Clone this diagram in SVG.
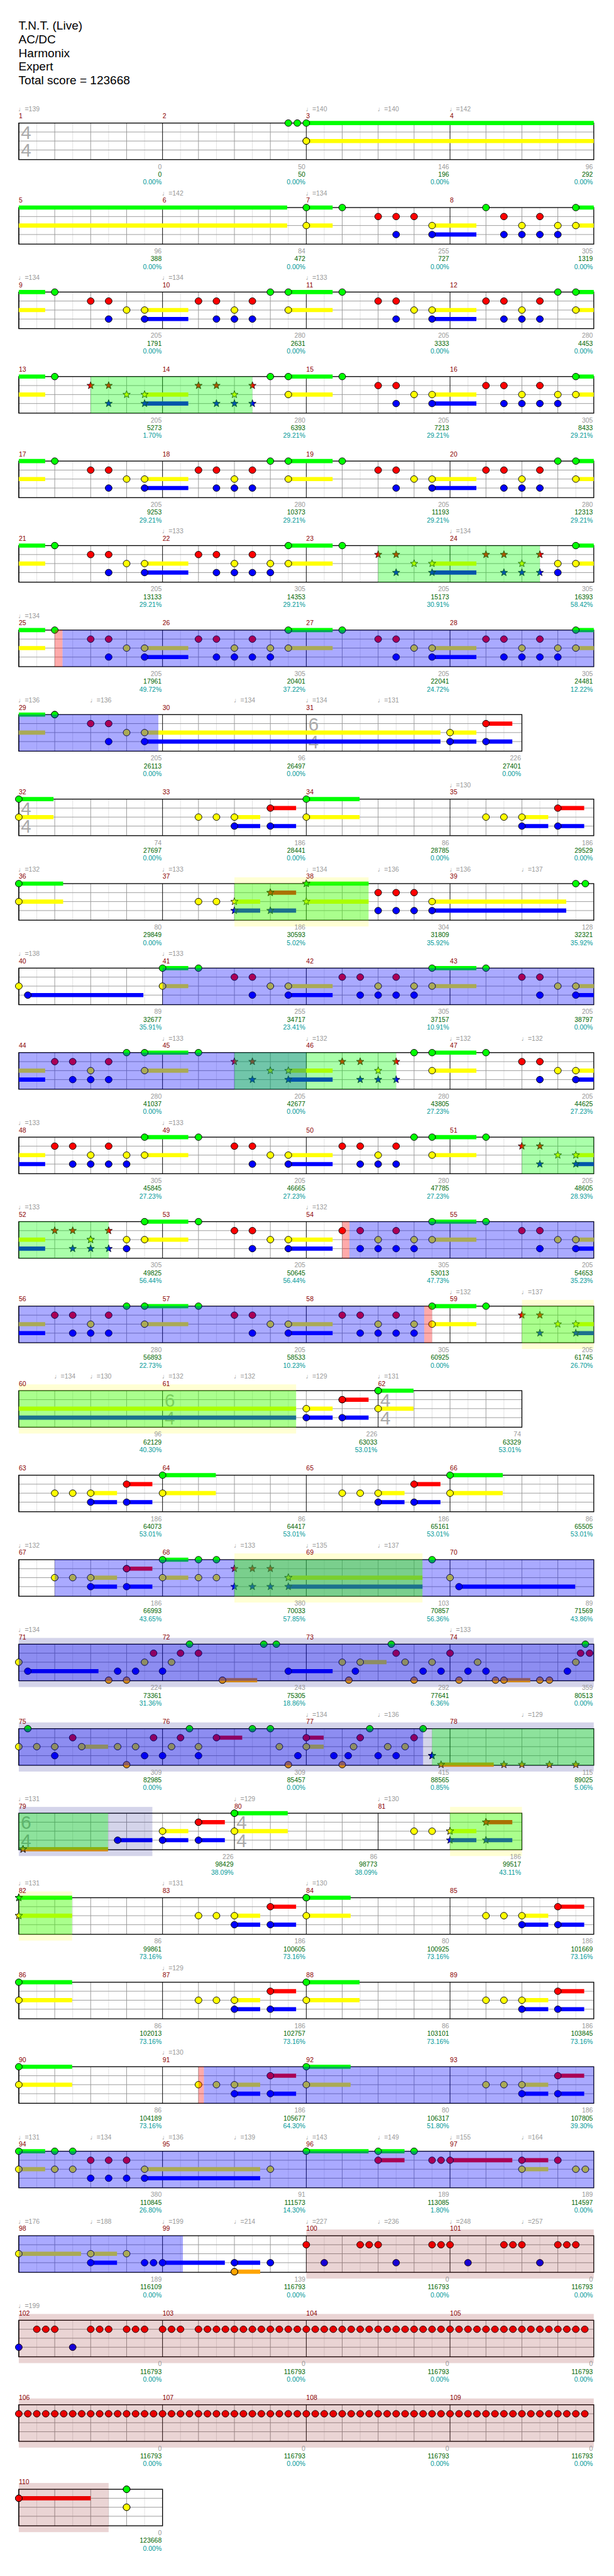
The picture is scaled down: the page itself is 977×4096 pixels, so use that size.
<svg xmlns="http://www.w3.org/2000/svg" width="977" height="4096" viewBox="0 0 977 4096">
<defs>
<style>
text{font-family:"Liberation Sans",Arial,"DejaVu Sans",sans-serif;font-size:11px}
.t{fill:#999}
.m{fill:#8b0000}
.a{fill:#999;text-anchor:end}
.b{fill:#060;text-anchor:end}
.c{fill:#099;text-anchor:end}
.ts text{font-size:31px;fill:#aaa}
.h{font-size:20px;fill:#000}
.k{fill:none;stroke-width:7}
.sg{stroke:#0f0}.sr{stroke:#f00}.sy{stroke:#ff0}.sb{stroke:#00f}.so{stroke:#ffa500}
.nG{marker:url(#mG)}.nR{marker:url(#mR)}.nY{marker:url(#mY)}.nB{marker:url(#mB)}.nO{marker:url(#mO)}
.xG{marker:url(#kG)}.xR{marker:url(#kR)}.xY{marker:url(#kY)}.xB{marker:url(#kB)}.xO{marker:url(#kO)}
.ob{fill:#00f;fill-opacity:.333}
.og{fill:#0f0;fill-opacity:.333}
.os{fill:#f00;fill-opacity:.333}
.oy{fill:#ff0;fill-opacity:.17}
.or{fill:#800000;fill-opacity:.17}
.ov{fill:#000080;fill-opacity:.17}
.bx{fill:none;stroke:#000;stroke-width:1.4}
</style>
<ellipse id="e" rx="5.7" ry="5.5" stroke="#000" stroke-width="1"/>
<path id="st" d="M0,-6.5L1.59,-2.18 6.18,-2.01 2.57,0.83 3.82,5.26 0,2.7 -3.82,5.26 -2.57,0.83 -6.18,-2.01 -1.59,-2.18Z" stroke="#000" stroke-width="0.8"/>
<marker id="mG" markerUnits="userSpaceOnUse" overflow="visible" orient="0"><use href="#e" fill="#0f0"/></marker>
<marker id="mR" markerUnits="userSpaceOnUse" overflow="visible" orient="0"><use href="#e" fill="#f00"/></marker>
<marker id="mY" markerUnits="userSpaceOnUse" overflow="visible" orient="0"><use href="#e" fill="#ff0"/></marker>
<marker id="mB" markerUnits="userSpaceOnUse" overflow="visible" orient="0"><use href="#e" fill="#00f"/></marker>
<marker id="mO" markerUnits="userSpaceOnUse" overflow="visible" orient="0"><use href="#e" fill="#ffa500"/></marker>
<marker id="kG" markerUnits="userSpaceOnUse" overflow="visible" orient="0"><use href="#st" fill="#0f0"/></marker>
<marker id="kR" markerUnits="userSpaceOnUse" overflow="visible" orient="0"><use href="#st" fill="#f00"/></marker>
<marker id="kY" markerUnits="userSpaceOnUse" overflow="visible" orient="0"><use href="#st" fill="#ff0"/></marker>
<marker id="kB" markerUnits="userSpaceOnUse" overflow="visible" orient="0"><use href="#st" fill="#00f"/></marker>
<marker id="kO" markerUnits="userSpaceOnUse" overflow="visible" orient="0"><use href="#st" fill="#ffa500"/></marker>
<g id="m4"><path d="M30 0V61M90 0V61M150 0V61M210 0V61" stroke="#e2e2e2"/><path d="M60 0V61M120 0V61M180 0V61M0 15H240M0 30H240M0 45H240" stroke="#999"/><path d="M0 0V61" stroke="#000"/></g>
<g id="m6"><path d="M30 0V61M90 0V61M150 0V61M210 0V61M270 0V61M330 0V61" stroke="#e2e2e2"/><path d="M60 0V61M120 0V61M180 0V61M240 0V61M300 0V61M0 15H360M0 30H360M0 45H360" stroke="#999"/><path d="M0 0V61" stroke="#000"/></g>
<g id="R16"><use href="#m4"/><use href="#m4" x="240"/><use href="#m4" x="480"/><use href="#m4" x="720"/><rect class="bx" width="960" height="61"/></g>
<g id="T44" class="ts"><text x="3.5" y="26.5">4</text><text x="3.5" y="56.5">4</text></g>
<g id="T64" class="ts"><text x="3.5" y="26.5">6</text><text x="3.5" y="56.5">4</text></g>
</defs>
<rect width="977" height="4096" fill="#fff"/>
<g transform="scale(0.953)">
<g id="header">
<text class="h" x="31" y="49">T.N.T. (Live)</text>
<text class="h" x="31" y="72">AC/DC</text>
<text class="h" x="31" y="95">Harmonix</text>
<text class="h" x="31" y="118">Expert</text>
<text class="h" x="31" y="141">Total score = 123668</text>
</g>

<g id="r1" transform="translate(31.4,205.3)">
<use href="#R16"/><use href="#T44"/>
<path class="k sg" d="M480 0H960"/><path class="k sy" d="M480 30H960"/>
<path class="nG" d="M450 0H465H480"/><path class="nY" d="M480 30h0"/>
<text class="t" x="-1" y="-20">♩=139</text><text class="t" x="479" y="-20">♩=140</text><text class="t" x="599" y="-20">♩=140</text><text class="t" x="719" y="-20">♩=142</text>
<text class="m" y="-8">1</text><text class="m" x="240" y="-8">2</text><text class="m" x="480" y="-8">3</text><text class="m" x="720" y="-8">4</text>
<text class="a" x="238.5" y="76.5">0</text><text class="b" x="238.5" y="89.5">0</text><text class="c" x="238.5" y="102.5">0.00%</text>
<text class="a" x="478.5" y="76.5">50</text><text class="b" x="478.5" y="89.5">50</text><text class="c" x="478.5" y="102.5">0.00%</text>
<text class="a" x="718.5" y="76.5">146</text><text class="b" x="718.5" y="89.5">196</text><text class="c" x="718.5" y="102.5">0.00%</text>
<text class="a" x="958.5" y="76.5">96</text><text class="b" x="958.5" y="89.5">292</text><text class="c" x="958.5" y="102.5">0.00%</text>
</g>

<g id="r2" transform="translate(31.4,346.3)">
<use href="#R16"/>
<path class="k sg" d="M0 0H448M480 0H524M930 0H960"/><path class="k sy" d="M0 30H448M480 30H524M690 30H764M930 30H960"/><path class="k sb" d="M690 45H764"/>
<path class="nG" d="M480 0H540H780H930"/><path class="nR" d="M600 15H630H660H810H870"/><path class="nY" d="M480 30H690H840H900H930"/><path class="nB" d="M630 45H690H810H840H870H900"/>
<text class="t" x="239" y="-20">♩=142</text><text class="t" x="479" y="-20">♩=134</text>
<text class="m" y="-8">5</text><text class="m" x="240" y="-8">6</text><text class="m" x="480" y="-8">7</text><text class="m" x="720" y="-8">8</text>
<text class="a" x="238.5" y="76.5">96</text><text class="b" x="238.5" y="89.5">388</text><text class="c" x="238.5" y="102.5">0.00%</text>
<text class="a" x="478.5" y="76.5">84</text><text class="b" x="478.5" y="89.5">472</text><text class="c" x="478.5" y="102.5">0.00%</text>
<text class="a" x="718.5" y="76.5">255</text><text class="b" x="718.5" y="89.5">727</text><text class="c" x="718.5" y="102.5">0.00%</text>
<text class="a" x="958.5" y="76.5">305</text><text class="b" x="958.5" y="89.5">1319</text><text class="c" x="958.5" y="102.5">0.00%</text>
</g>

<g id="r3" transform="translate(31.4,487.3)">
<use href="#R16"/>
<path class="k sg" d="M0 0H44M450 0H524M930 0H960"/><path class="k sy" d="M0 30H44M210 30H283M450 30H524M690 30H764M930 30H960"/><path class="k sb" d="M210 45H283M690 45H764"/>
<path class="nG" d="M60 0H420H450H540H900H930"/><path class="nR" d="M120 15H150H300H330H390H600H630H780H810H870"/><path class="nY" d="M180 30H210H360H450H660H690H840H930"/><path class="nB" d="M150 45H210H330H360H390H630H690H810H840H870"/>
<text class="t" x="-1" y="-20">♩=134</text><text class="t" x="239" y="-20">♩=134</text><text class="t" x="479" y="-20">♩=133</text>
<text class="m" y="-8">9</text><text class="m" x="240" y="-8">10</text><text class="m" x="480" y="-8">11</text><text class="m" x="720" y="-8">12</text>
<text class="a" x="238.5" y="76.5">205</text><text class="b" x="238.5" y="89.5">1791</text><text class="c" x="238.5" y="102.5">0.00%</text>
<text class="a" x="478.5" y="76.5">280</text><text class="b" x="478.5" y="89.5">2631</text><text class="c" x="478.5" y="102.5">0.00%</text>
<text class="a" x="718.5" y="76.5">205</text><text class="b" x="718.5" y="89.5">3333</text><text class="c" x="718.5" y="102.5">0.00%</text>
<text class="a" x="958.5" y="76.5">280</text><text class="b" x="958.5" y="89.5">4453</text><text class="c" x="958.5" y="102.5">0.00%</text>
</g>

<g id="r4" transform="translate(31.4,628.3)">
<use href="#R16"/>
<path class="k sg" d="M0 0H44M450 0H524M930 0H960"/><path class="k sy" d="M0 30H44M210 30H283M450 30H524M690 30H764M930 30H960"/><path class="k sb" d="M210 45H283M690 45H764"/>
<path class="nG" d="M60 0H420H450H540H930"/><path class="xR" d="M120 15H150H300H330H390"/><path class="nR" d="M600 15H630H780H810H870"/><path class="xY" d="M180 30H210H360"/><path class="nY" d="M450 30H660H690H840H900H930"/><path class="xB" d="M150 45H210H330H360H390"/><path class="nB" d="M630 45H690H810H840H870H900"/>
<rect class="og" x="120" width="270" height="61"/>
<text class="m" y="-8">13</text><text class="m" x="240" y="-8">14</text><text class="m" x="480" y="-8">15</text><text class="m" x="720" y="-8">16</text>
<text class="a" x="238.5" y="76.5">205</text><text class="b" x="238.5" y="89.5">5273</text><text class="c" x="238.5" y="102.5">1.70%</text>
<text class="a" x="478.5" y="76.5">280</text><text class="b" x="478.5" y="89.5">6393</text><text class="c" x="478.5" y="102.5">29.21%</text>
<text class="a" x="718.5" y="76.5">205</text><text class="b" x="718.5" y="89.5">7213</text><text class="c" x="718.5" y="102.5">29.21%</text>
<text class="a" x="958.5" y="76.5">305</text><text class="b" x="958.5" y="89.5">8433</text><text class="c" x="958.5" y="102.5">29.21%</text>
</g>

<g id="r5" transform="translate(31.4,769.3)">
<use href="#R16"/>
<path class="k sg" d="M0 0H44M450 0H524M930 0H960"/><path class="k sy" d="M0 30H44M210 30H283M450 30H524M690 30H764M930 30H960"/><path class="k sb" d="M210 45H283M690 45H764"/>
<path class="nG" d="M60 0H420H450H540H900H930"/><path class="nR" d="M120 15H150H300H330H390H600H630H780H810H870"/><path class="nY" d="M180 30H210H360H450H660H690H840H930"/><path class="nB" d="M150 45H210H330H360H390H630H690H810H840H870"/>
<text class="m" y="-8">17</text><text class="m" x="240" y="-8">18</text><text class="m" x="480" y="-8">19</text><text class="m" x="720" y="-8">20</text>
<text class="a" x="238.5" y="76.5">205</text><text class="b" x="238.5" y="89.5">9253</text><text class="c" x="238.5" y="102.5">29.21%</text>
<text class="a" x="478.5" y="76.5">280</text><text class="b" x="478.5" y="89.5">10373</text><text class="c" x="478.5" y="102.5">29.21%</text>
<text class="a" x="718.5" y="76.5">205</text><text class="b" x="718.5" y="89.5">11193</text><text class="c" x="718.5" y="102.5">29.21%</text>
<text class="a" x="958.5" y="76.5">280</text><text class="b" x="958.5" y="89.5">12313</text><text class="c" x="958.5" y="102.5">29.21%</text>
</g>

<g id="r6" transform="translate(31.4,910.3)">
<use href="#R16"/>
<path class="k sg" d="M0 0H44M450 0H524M930 0H960"/><path class="k sy" d="M0 30H44M210 30H283M450 30H524M690 30H764M930 30H960"/><path class="k sb" d="M210 45H283M690 45H764"/>
<path class="nG" d="M60 0H450H540H930"/><path class="nR" d="M120 15H150H300H330H390"/><path class="xR" d="M600 15H630H780H810H870"/><path class="nY" d="M180 30H210H360H420H450H900H930"/><path class="xY" d="M660 30H690H840"/><path class="nB" d="M150 45H210H330H360H390H420H900"/><path class="xB" d="M630 45H690H810H840H870"/>
<rect class="og" x="600" width="270" height="61"/>
<text class="t" x="239" y="-20">♩=133</text><text class="t" x="719" y="-20">♩=134</text>
<text class="m" y="-8">21</text><text class="m" x="240" y="-8">22</text><text class="m" x="480" y="-8">23</text><text class="m" x="720" y="-8">24</text>
<text class="a" x="238.5" y="76.5">205</text><text class="b" x="238.5" y="89.5">13133</text><text class="c" x="238.5" y="102.5">29.21%</text>
<text class="a" x="478.5" y="76.5">305</text><text class="b" x="478.5" y="89.5">14353</text><text class="c" x="478.5" y="102.5">29.21%</text>
<text class="a" x="718.5" y="76.5">205</text><text class="b" x="718.5" y="89.5">15173</text><text class="c" x="718.5" y="102.5">30.91%</text>
<text class="a" x="958.5" y="76.5">305</text><text class="b" x="958.5" y="89.5">16393</text><text class="c" x="958.5" y="102.5">58.42%</text>
</g>

<g id="r7" transform="translate(31.4,1051.3)">
<use href="#R16"/>
<path class="k sg" d="M0 0H44M450 0H524M930 0H960"/><path class="k sy" d="M0 30H44M210 30H283M450 30H524M690 30H764M930 30H960"/><path class="k sb" d="M210 45H283M690 45H764"/>
<path class="nG" d="M60 0H450H540H930"/><path class="nR" d="M120 15H150H300H330H390H600H630H780H810H870"/><path class="nY" d="M180 30H210H360H420H450H660H690H840H900H930"/><path class="nB" d="M150 45H210H330H360H390H420H630H690H810H840H870H900"/>
<rect class="os" x="60" width="13" height="61"/><rect class="ob" x="73" width="887" height="61"/>
<text class="t" x="-1" y="-20">♩=134</text>
<text class="m" y="-8">25</text><text class="m" x="240" y="-8">26</text><text class="m" x="480" y="-8">27</text><text class="m" x="720" y="-8">28</text>
<text class="a" x="238.5" y="76.5">205</text><text class="b" x="238.5" y="89.5">17961</text><text class="c" x="238.5" y="102.5">49.72%</text>
<text class="a" x="478.5" y="76.5">305</text><text class="b" x="478.5" y="89.5">20401</text><text class="c" x="478.5" y="102.5">37.22%</text>
<text class="a" x="718.5" y="76.5">205</text><text class="b" x="718.5" y="89.5">22041</text><text class="c" x="718.5" y="102.5">24.72%</text>
<text class="a" x="958.5" y="76.5">305</text><text class="b" x="958.5" y="89.5">24481</text><text class="c" x="958.5" y="102.5">12.22%</text>
</g>

<g id="r8" transform="translate(31.4,1192.3)">
<use href="#m4"/><use href="#m4" x="240"/><use href="#m6" x="480"/><rect class="bx" width="840" height="61"/><use href="#T64" x="480"/>
<path class="k sg" d="M0 0H44"/><path class="k sr" d="M780 15H824"/><path class="k sy" d="M0 30H44M210 30H704M720 30H764"/><path class="k sb" d="M210 45H704M720 45H764M780 45H824"/>
<path class="nG" d="M60 0h0"/><path class="nR" d="M120 15H150H780"/><path class="nY" d="M180 30H210H720"/><path class="nB" d="M150 45H210H720H780"/>
<rect class="ob" width="233" height="61"/>
<text class="t" x="-1" y="-20">♩=136</text><text class="t" x="119" y="-20">♩=136</text><text class="t" x="359" y="-20">♩=134</text><text class="t" x="479" y="-20">♩=134</text><text class="t" x="599" y="-20">♩=131</text>
<text class="m" y="-8">29</text><text class="m" x="240" y="-8">30</text><text class="m" x="480" y="-8">31</text>
<text class="a" x="238.5" y="76.5">205</text><text class="b" x="238.5" y="89.5">26113</text><text class="c" x="238.5" y="102.5">0.00%</text>
<text class="a" x="478.5" y="76.5">96</text><text class="b" x="478.5" y="89.5">26497</text><text class="c" x="478.5" y="102.5">0.00%</text>
<text class="a" x="838.5" y="76.5">226</text><text class="b" x="838.5" y="89.5">27401</text><text class="c" x="838.5" y="102.5">0.00%</text>
</g>

<g id="r9" transform="translate(31.4,1333.3)">
<use href="#R16"/><use href="#T44"/>
<path class="k sg" d="M0 0H58M480 0H569"/><path class="k sr" d="M420 15H463M900 15H944"/><path class="k sy" d="M0 30H58M360 30H403M480 30H569M840 30H884"/><path class="k sb" d="M360 45H403M420 45H463M840 45H884M900 45H944"/>
<path class="nG" d="M0 0H480"/><path class="nR" d="M420 15H900"/><path class="nY" d="M0 30H300H330H360H480H780H810H840"/><path class="nB" d="M360 45H420H840H900"/>
<text class="t" x="719" y="-20">♩=130</text>
<text class="m" y="-8">32</text><text class="m" x="240" y="-8">33</text><text class="m" x="480" y="-8">34</text><text class="m" x="720" y="-8">35</text>
<text class="a" x="238.5" y="76.5">74</text><text class="b" x="238.5" y="89.5">27697</text><text class="c" x="238.5" y="102.5">0.00%</text>
<text class="a" x="478.5" y="76.5">186</text><text class="b" x="478.5" y="89.5">28441</text><text class="c" x="478.5" y="102.5">0.00%</text>
<text class="a" x="718.5" y="76.5">86</text><text class="b" x="718.5" y="89.5">28785</text><text class="c" x="718.5" y="102.5">0.00%</text>
<text class="a" x="958.5" y="76.5">186</text><text class="b" x="958.5" y="89.5">29529</text><text class="c" x="958.5" y="102.5">0.00%</text>
</g>

<g id="r10" transform="translate(31.4,1474.3)">
<use href="#R16"/>
<path class="k sg" d="M0 0H74M480 0H584"/><path class="k sr" d="M420 15H463"/><path class="k sy" d="M0 30H74M360 30H403M480 30H584M690 30H914"/><path class="k sb" d="M360 45H403M420 45H463M690 45H914"/>
<path class="nG" d="M0 0H930H946"/><path class="xG" d="M480 0h0"/><path class="xR" d="M420 15h0"/><path class="nR" d="M600 15H630H660"/><path class="nY" d="M0 30H300H330H690"/><path class="xY" d="M360 30H480"/><path class="xB" d="M360 45H420"/><path class="nB" d="M600 45H630H660H690"/>
<rect class="oy" x="360" y="-10.5" width="224" height="82"/><rect class="og" x="360" width="224" height="61"/>
<text class="t" x="-1" y="-20">♩=132</text><text class="t" x="239" y="-20">♩=133</text><text class="t" x="479" y="-20">♩=134</text><text class="t" x="599" y="-20">♩=136</text><text class="t" x="719" y="-20">♩=136</text><text class="t" x="839" y="-20">♩=137</text>
<text class="m" y="-8">36</text><text class="m" x="240" y="-8">37</text><text class="m" x="480" y="-8">38</text><text class="m" x="720" y="-8">39</text>
<text class="a" x="238.5" y="76.5">80</text><text class="b" x="238.5" y="89.5">29849</text><text class="c" x="238.5" y="102.5">0.00%</text>
<text class="a" x="478.5" y="76.5">186</text><text class="b" x="478.5" y="89.5">30593</text><text class="c" x="478.5" y="102.5">5.02%</text>
<text class="a" x="718.5" y="76.5">304</text><text class="b" x="718.5" y="89.5">31809</text><text class="c" x="718.5" y="102.5">35.92%</text>
<text class="a" x="958.5" y="76.5">128</text><text class="b" x="958.5" y="89.5">32321</text><text class="c" x="958.5" y="102.5">35.92%</text>
</g>

<g id="r11" transform="translate(31.4,1615.3)">
<use href="#R16"/>
<path class="k sg" d="M240 0H283M690 0H764"/><path class="k sy" d="M240 30H283M450 30H524M690 30H764M930 30H960"/><path class="k sb" d="M15 45H208M450 45H524M930 45H960"/>
<path class="nG" d="M240 0H300H690H780"/><path class="nR" d="M360 15H390H540H570H630H840H870"/><path class="nY" d="M0 30H240H420H450H600H660H690H900H930"/><path class="nB" d="M15 45H390H450H570H600H630H660H870H930"/>
<rect class="ob" x="240" width="720" height="61"/>
<text class="t" x="-1" y="-20">♩=138</text><text class="t" x="239" y="-20">♩=133</text>
<text class="m" y="-8">40</text><text class="m" x="240" y="-8">41</text><text class="m" x="480" y="-8">42</text><text class="m" x="720" y="-8">43</text>
<text class="a" x="238.5" y="76.5">89</text><text class="b" x="238.5" y="89.5">32677</text><text class="c" x="238.5" y="102.5">35.91%</text>
<text class="a" x="478.5" y="76.5">255</text><text class="b" x="478.5" y="89.5">34717</text><text class="c" x="478.5" y="102.5">23.41%</text>
<text class="a" x="718.5" y="76.5">305</text><text class="b" x="718.5" y="89.5">37157</text><text class="c" x="718.5" y="102.5">10.91%</text>
<text class="a" x="958.5" y="76.5">205</text><text class="b" x="958.5" y="89.5">38797</text><text class="c" x="958.5" y="102.5">0.00%</text>
</g>

<g id="r12" transform="translate(31.4,1756.3)">
<use href="#R16"/>
<path class="k sg" d="M210 0H283M690 0H764"/><path class="k sy" d="M0 30H44M210 30H283M450 30H524M690 30H764M930 30H960"/><path class="k sb" d="M0 45H44M450 45H524M930 45H960"/>
<path class="nG" d="M180 0H210H300H660H690H780"/><path class="nR" d="M60 15H90H150H840H870"/><path class="xR" d="M360 15H390H540H570H630"/><path class="nY" d="M120 30H210H690H900H930"/><path class="xY" d="M420 30H450H600"/><path class="nB" d="M90 45H120H150H870H930"/><path class="xB" d="M390 45H450H570H600H630"/>
<rect class="ob" width="480" height="61"/><rect class="og" x="360" width="270" height="61"/>
<text class="t" x="239" y="-20">♩=133</text><text class="t" x="479" y="-20">♩=132</text><text class="t" x="719" y="-20">♩=132</text><text class="t" x="839" y="-20">♩=132</text>
<text class="m" y="-8">44</text><text class="m" x="240" y="-8">45</text><text class="m" x="480" y="-8">46</text><text class="m" x="720" y="-8">47</text>
<text class="a" x="238.5" y="76.5">280</text><text class="b" x="238.5" y="89.5">41037</text><text class="c" x="238.5" y="102.5">0.00%</text>
<text class="a" x="478.5" y="76.5">205</text><text class="b" x="478.5" y="89.5">42677</text><text class="c" x="478.5" y="102.5">0.00%</text>
<text class="a" x="718.5" y="76.5">280</text><text class="b" x="718.5" y="89.5">43805</text><text class="c" x="718.5" y="102.5">27.23%</text>
<text class="a" x="958.5" y="76.5">205</text><text class="b" x="958.5" y="89.5">44625</text><text class="c" x="958.5" y="102.5">27.23%</text>
</g>

<g id="r13" transform="translate(31.4,1897.3)">
<use href="#R16"/>
<path class="k sg" d="M210 0H283M690 0H764"/><path class="k sy" d="M0 30H44M210 30H283M450 30H524M690 30H764M930 30H960"/><path class="k sb" d="M0 45H44M450 45H524M930 45H960"/>
<path class="nG" d="M210 0H300H660H690H780"/><path class="nR" d="M60 15H90H150H360H390H540H570H630"/><path class="xR" d="M840 15H870"/><path class="nY" d="M120 30H180H210H420H450H600H690"/><path class="xY" d="M900 30H930"/><path class="nB" d="M90 45H120H150H180H390H450H570H600H630"/><path class="xB" d="M870 45H930"/>
<rect class="og" x="840" width="120" height="61"/>
<text class="t" x="-1" y="-20">♩=133</text><text class="t" x="239" y="-20">♩=133</text>
<text class="m" y="-8">48</text><text class="m" x="240" y="-8">49</text><text class="m" x="480" y="-8">50</text><text class="m" x="720" y="-8">51</text>
<text class="a" x="238.5" y="76.5">305</text><text class="b" x="238.5" y="89.5">45845</text><text class="c" x="238.5" y="102.5">27.23%</text>
<text class="a" x="478.5" y="76.5">205</text><text class="b" x="478.5" y="89.5">46665</text><text class="c" x="478.5" y="102.5">27.23%</text>
<text class="a" x="718.5" y="76.5">280</text><text class="b" x="718.5" y="89.5">47785</text><text class="c" x="718.5" y="102.5">27.23%</text>
<text class="a" x="958.5" y="76.5">205</text><text class="b" x="958.5" y="89.5">48605</text><text class="c" x="958.5" y="102.5">28.93%</text>
</g>

<g id="r14" transform="translate(31.4,2038.3)">
<use href="#R16"/>
<path class="k sg" d="M210 0H283M690 0H764"/><path class="k sy" d="M0 30H44M210 30H283M450 30H524M690 30H764M930 30H960"/><path class="k sb" d="M0 45H44M450 45H524M930 45H960"/>
<path class="nG" d="M210 0H300H690H780"/><path class="xR" d="M60 15H90H150"/><path class="nR" d="M360 15H390H540H570H630H840H870"/><path class="xY" d="M120 30h0"/><path class="nY" d="M180 30H210H420H450H600H660H690H900H930"/><path class="xB" d="M90 45H120H150"/><path class="nB" d="M180 45H390H450H570H600H630H660H870H930"/>
<rect class="og" width="150" height="61"/><rect class="os" x="540" width="12" height="61"/><rect class="ob" x="552" width="408" height="61"/>
<text class="t" x="-1" y="-20">♩=133</text><text class="t" x="479" y="-20">♩=132</text>
<text class="m" y="-8">52</text><text class="m" x="240" y="-8">53</text><text class="m" x="480" y="-8">54</text><text class="m" x="720" y="-8">55</text>
<text class="a" x="238.5" y="76.5">305</text><text class="b" x="238.5" y="89.5">49825</text><text class="c" x="238.5" y="102.5">56.44%</text>
<text class="a" x="478.5" y="76.5">205</text><text class="b" x="478.5" y="89.5">50645</text><text class="c" x="478.5" y="102.5">56.44%</text>
<text class="a" x="718.5" y="76.5">305</text><text class="b" x="718.5" y="89.5">53013</text><text class="c" x="718.5" y="102.5">47.73%</text>
<text class="a" x="958.5" y="76.5">205</text><text class="b" x="958.5" y="89.5">54653</text><text class="c" x="958.5" y="102.5">35.23%</text>
</g>

<g id="r15" transform="translate(31.4,2179.3)">
<use href="#R16"/>
<path class="k sg" d="M210 0H283M690 0H764"/><path class="k sy" d="M0 30H44M210 30H283M450 30H524M690 30H764M930 30H960"/><path class="k sb" d="M0 45H44M450 45H524M930 45H960"/>
<path class="nG" d="M180 0H210H300H690H780"/><path class="nR" d="M60 15H90H150H360H390H540H570H630"/><path class="xR" d="M840 15H870"/><path class="nY" d="M120 30H210H420H450H600H660H690"/><path class="xY" d="M900 30H930"/><path class="nB" d="M90 45H120H150H390H450H570H600H630H660"/><path class="xB" d="M870 45H930"/>
<rect class="ob" width="677" height="61"/><rect class="os" x="677" width="13" height="61"/><rect class="oy" x="840" y="-10.5" width="120" height="82"/><rect class="og" x="840" width="120" height="61"/>
<text class="t" x="719" y="-20">♩=132</text><text class="t" x="839" y="-20">♩=137</text>
<text class="m" y="-8">56</text><text class="m" x="240" y="-8">57</text><text class="m" x="480" y="-8">58</text><text class="m" x="720" y="-8">59</text>
<text class="a" x="238.5" y="76.5">280</text><text class="b" x="238.5" y="89.5">56893</text><text class="c" x="238.5" y="102.5">22.73%</text>
<text class="a" x="478.5" y="76.5">205</text><text class="b" x="478.5" y="89.5">58533</text><text class="c" x="478.5" y="102.5">10.23%</text>
<text class="a" x="718.5" y="76.5">305</text><text class="b" x="718.5" y="89.5">60925</text><text class="c" x="718.5" y="102.5">0.00%</text>
<text class="a" x="958.5" y="76.5">205</text><text class="b" x="958.5" y="89.5">61745</text><text class="c" x="958.5" y="102.5">26.70%</text>
</g>

<g id="r16" transform="translate(31.4,2320.3)">
<use href="#m4"/><use href="#m6" x="240"/><use href="#m4" x="600"/><rect class="bx" width="840" height="61"/><use href="#T64" x="240"/><use href="#T44" x="600"/>
<path class="k sg" d="M600 0H659"/><path class="k sr" d="M540 15H584"/><path class="k sy" d="M0 30H463M480 30H524M600 30H659"/><path class="k sb" d="M0 45H463M480 45H524M540 45H584"/>
<path class="nG" d="M600 0h0"/><path class="nR" d="M540 15h0"/><path class="nY" d="M480 30H600"/><path class="nB" d="M480 45H540"/>
<rect class="oy" y="-10.5" width="463" height="82"/><rect class="og" width="463" height="61"/>
<text class="t" x="59" y="-20">♩=134</text><text class="t" x="119" y="-20">♩=130</text><text class="t" x="239" y="-20">♩=132</text><text class="t" x="359" y="-20">♩=132</text><text class="t" x="479" y="-20">♩=129</text><text class="t" x="599" y="-20">♩=131</text>
<text class="m" y="-8">60</text><text class="m" x="240" y="-8">61</text><text class="m" x="600" y="-8">62</text>
<text class="a" x="238.5" y="76.5">96</text><text class="b" x="238.5" y="89.5">62129</text><text class="c" x="238.5" y="102.5">40.30%</text>
<text class="a" x="598.5" y="76.5">226</text><text class="b" x="598.5" y="89.5">63033</text><text class="c" x="598.5" y="102.5">53.01%</text>
<text class="a" x="838.5" y="76.5">74</text><text class="b" x="838.5" y="89.5">63329</text><text class="c" x="838.5" y="102.5">53.01%</text>
</g>

<g id="r17" transform="translate(31.4,2461.3)">
<use href="#R16"/>
<path class="k sg" d="M240 0H329M720 0H808"/><path class="k sr" d="M180 15H223M660 15H704"/><path class="k sy" d="M120 30H164M240 30H329M600 30H644M720 30H808"/><path class="k sb" d="M120 45H164M180 45H223M600 45H644M660 45H704"/>
<path class="nG" d="M240 0H720"/><path class="nR" d="M180 15H660"/><path class="nY" d="M60 30H90H120H240H540H570H600H720"/><path class="nB" d="M120 45H180H600H660"/>
<text class="m" y="-8">63</text><text class="m" x="240" y="-8">64</text><text class="m" x="480" y="-8">65</text><text class="m" x="720" y="-8">66</text>
<text class="a" x="238.5" y="76.5">186</text><text class="b" x="238.5" y="89.5">64073</text><text class="c" x="238.5" y="102.5">53.01%</text>
<text class="a" x="478.5" y="76.5">86</text><text class="b" x="478.5" y="89.5">64417</text><text class="c" x="478.5" y="102.5">53.01%</text>
<text class="a" x="718.5" y="76.5">186</text><text class="b" x="718.5" y="89.5">65161</text><text class="c" x="718.5" y="102.5">53.01%</text>
<text class="a" x="958.5" y="76.5">86</text><text class="b" x="958.5" y="89.5">65505</text><text class="c" x="958.5" y="102.5">53.01%</text>
</g>

<g id="r18" transform="translate(31.4,2602.3)">
<use href="#R16"/>
<path class="k sg" d="M240 0H283"/><path class="k sr" d="M180 15H223"/><path class="k sy" d="M120 30H164M240 30H283M450 30H674"/><path class="k sb" d="M120 45H164M180 45H223M450 45H674M735 45H929"/>
<path class="nG" d="M240 0H300H330H690"/><path class="nR" d="M180 15h0"/><path class="xR" d="M360 15H390H420"/><path class="nY" d="M60 30H90H120H240H300H330H720"/><path class="xY" d="M450 30h0"/><path class="nB" d="M120 45H180H735"/><path class="xB" d="M360 45H390H420H450"/>
<rect class="ob" x="60" width="900" height="61"/><rect class="oy" x="360" y="-10.5" width="314" height="82"/><rect class="og" x="360" width="314" height="61"/>
<text class="t" x="-1" y="-20">♩=132</text><text class="t" x="359" y="-20">♩=133</text><text class="t" x="479" y="-20">♩=135</text><text class="t" x="599" y="-20">♩=137</text>
<text class="m" y="-8">67</text><text class="m" x="240" y="-8">68</text><text class="m" x="480" y="-8">69</text><text class="m" x="720" y="-8">70</text>
<text class="a" x="238.5" y="76.5">186</text><text class="b" x="238.5" y="89.5">66993</text><text class="c" x="238.5" y="102.5">43.65%</text>
<text class="a" x="478.5" y="76.5">380</text><text class="b" x="478.5" y="89.5">70033</text><text class="c" x="478.5" y="102.5">57.85%</text>
<text class="a" x="718.5" y="76.5">103</text><text class="b" x="718.5" y="89.5">70857</text><text class="c" x="718.5" y="102.5">56.36%</text>
<text class="a" x="958.5" y="76.5">89</text><text class="b" x="958.5" y="89.5">71569</text><text class="c" x="958.5" y="102.5">43.86%</text>
</g>

<g id="r19" transform="translate(31.4,2743.3)">
<use href="#R16"/>
<path class="k sy" d="M570 30H614"/><path class="k sb" d="M15 45H133M450 45H524"/><path class="k so" d="M340 60H398M810 60H854"/>
<path class="nG" d="M285 0H409H430H622H946"/><path class="nR" d="M225 15H270H300H630H720H938H953"/><path class="nY" d="M0 30H210H255H540H570H645H690H766H930"/><path class="nB" d="M15 45H165H195H240H450H562H675H705H750H780H916"/><path class="nO" d="M150 60H180H340H551H660H735H796H810H870H886"/>
<rect class="ov" y="-10.5" width="960" height="82"/><rect class="ob" width="960" height="61"/>
<text class="t" x="-1" y="-20">♩=134</text><text class="t" x="719" y="-20">♩=133</text>
<text class="m" y="-8">71</text><text class="m" x="240" y="-8">72</text><text class="m" x="480" y="-8">73</text><text class="m" x="720" y="-8">74</text>
<text class="a" x="238.5" y="76.5">224</text><text class="b" x="238.5" y="89.5">73361</text><text class="c" x="238.5" y="102.5">31.36%</text>
<text class="a" x="478.5" y="76.5">243</text><text class="b" x="478.5" y="89.5">75305</text><text class="c" x="478.5" y="102.5">18.86%</text>
<text class="a" x="718.5" y="76.5">292</text><text class="b" x="718.5" y="89.5">77641</text><text class="c" x="718.5" y="102.5">6.36%</text>
<text class="a" x="958.5" y="76.5">359</text><text class="b" x="958.5" y="89.5">80513</text><text class="c" x="958.5" y="102.5">0.00%</text>
</g>

<g id="r20" transform="translate(31.4,2884.3)">
<use href="#R16"/>
<path class="k sr" d="M330 15H373M480 15H509"/><path class="k sy" d="M105 30H149M480 30H509"/><path class="k so" d="M705 60H793"/>
<path class="nG" d="M15 0H285H390H420H586H675"/><path class="nR" d="M90 15H225H270H330H480H570H660"/><path class="nY" d="M0 30H30H60H105H165H195H255H300H435H480H559H616H645"/><path class="nB" d="M60 45H210H240H300H466H526H550H600H630"/><path class="xB" d="M690 45h0"/><path class="nO" d="M180 60H450H540"/><path class="xO" d="M705 60H810H840H886H930"/>
<rect class="ov" y="-10.5" width="960" height="82"/><rect class="ob" width="675" height="61"/><rect class="og" x="690" width="270" height="61"/>
<text class="t" x="479" y="-20">♩=134</text><text class="t" x="599" y="-20">♩=136</text><text class="t" x="839" y="-20">♩=129</text>
<text class="m" y="-8">75</text><text class="m" x="240" y="-8">76</text><text class="m" x="480" y="-8">77</text><text class="m" x="720" y="-8">78</text>
<text class="a" x="238.5" y="76.5">309</text><text class="b" x="238.5" y="89.5">82985</text><text class="c" x="238.5" y="102.5">0.00%</text>
<text class="a" x="478.5" y="76.5">309</text><text class="b" x="478.5" y="89.5">85457</text><text class="c" x="478.5" y="102.5">0.00%</text>
<text class="a" x="718.5" y="76.5">415</text><text class="b" x="718.5" y="89.5">88565</text><text class="c" x="718.5" y="102.5">0.85%</text>
<text class="a" x="958.5" y="76.5">115</text><text class="b" x="958.5" y="89.5">89025</text><text class="c" x="958.5" y="102.5">5.06%</text>
</g>

<g id="r21" transform="translate(31.4,3025.3)">
<use href="#m6"/><use href="#m4" x="360"/><use href="#m4" x="600"/><rect class="bx" width="840" height="61"/><use href="#T64"/><use href="#T44" x="360"/>
<path class="k sg" d="M360 0H449"/><path class="k sr" d="M300 15H344M780 15H824"/><path class="k sy" d="M240 30H283M360 30H449M720 30H764"/><path class="k sb" d="M165 45H223M240 45H283M300 45H344M720 45H764M780 45H824"/><path class="k so" d="M7 60H149"/>
<path class="nG" d="M360 0h0"/><path class="nR" d="M300 15h0"/><path class="xR" d="M780 15h0"/><path class="nY" d="M240 30H360H660H690"/><path class="xY" d="M720 30h0"/><path class="nB" d="M165 45H240H300"/><path class="xB" d="M720 45H780"/><path class="xO" d="M7 60h0"/>
<rect class="ov" y="-10.5" width="223" height="82"/><rect class="og" width="149" height="61"/><rect class="oy" x="720" y="-10.5" width="120" height="82"/><rect class="og" x="720" width="120" height="61"/>
<text class="t" x="-1" y="-20">♩=131</text><text class="t" x="359" y="-20">♩=129</text><text class="t" x="599" y="-20">♩=130</text>
<text class="m" y="-8">79</text><text class="m" x="360" y="-8">80</text><text class="m" x="600" y="-8">81</text>
<text class="a" x="358.5" y="76.5">226</text><text class="b" x="358.5" y="89.5">98429</text><text class="c" x="358.5" y="102.5">38.09%</text>
<text class="a" x="598.5" y="76.5">86</text><text class="b" x="598.5" y="89.5">98773</text><text class="c" x="598.5" y="102.5">38.09%</text>
<text class="a" x="838.5" y="76.5">186</text><text class="b" x="838.5" y="89.5">99517</text><text class="c" x="838.5" y="102.5">43.11%</text>
</g>

<g id="r22" transform="translate(31.4,3166.3)">
<use href="#R16"/>
<path class="k sg" d="M0 0H89M480 0H554"/><path class="k sr" d="M420 15H463M900 15H944"/><path class="k sy" d="M0 30H89M360 30H403M480 30H554M840 30H884"/><path class="k sb" d="M360 45H403M420 45H463M840 45H884M900 45H944"/>
<path class="xG" d="M0 0h0"/><path class="nG" d="M480 0h0"/><path class="nR" d="M420 15H900"/><path class="xY" d="M0 30h0"/><path class="nY" d="M300 30H330H360H480H780H810H840"/><path class="nB" d="M360 45H420H840H900"/>
<rect class="oy" y="-10.5" width="89" height="82"/><rect class="og" width="89" height="61"/>
<text class="t" x="-1" y="-20">♩=131</text><text class="t" x="239" y="-20">♩=131</text><text class="t" x="479" y="-20">♩=130</text>
<text class="m" y="-8">82</text><text class="m" x="240" y="-8">83</text><text class="m" x="480" y="-8">84</text><text class="m" x="720" y="-8">85</text>
<text class="a" x="238.5" y="76.5">86</text><text class="b" x="238.5" y="89.5">99861</text><text class="c" x="238.5" y="102.5">73.16%</text>
<text class="a" x="478.5" y="76.5">186</text><text class="b" x="478.5" y="89.5">100605</text><text class="c" x="478.5" y="102.5">73.16%</text>
<text class="a" x="718.5" y="76.5">80</text><text class="b" x="718.5" y="89.5">100925</text><text class="c" x="718.5" y="102.5">73.16%</text>
<text class="a" x="958.5" y="76.5">186</text><text class="b" x="958.5" y="89.5">101669</text><text class="c" x="958.5" y="102.5">73.16%</text>
</g>

<g id="r23" transform="translate(31.4,3307.3)">
<use href="#R16"/>
<path class="k sg" d="M0 0H89M480 0H569"/><path class="k sr" d="M420 15H463M900 15H944"/><path class="k sy" d="M0 30H89M360 30H403M480 30H569M840 30H884"/><path class="k sb" d="M360 45H403M420 45H463M840 45H884M900 45H944"/>
<path class="nG" d="M0 0H480"/><path class="nR" d="M420 15H900"/><path class="nY" d="M0 30H300H330H360H480H780H810H840"/><path class="nB" d="M360 45H420H840H900"/>
<text class="t" x="239" y="-20">♩=129</text>
<text class="m" y="-8">86</text><text class="m" x="240" y="-8">87</text><text class="m" x="480" y="-8">88</text><text class="m" x="720" y="-8">89</text>
<text class="a" x="238.5" y="76.5">86</text><text class="b" x="238.5" y="89.5">102013</text><text class="c" x="238.5" y="102.5">73.16%</text>
<text class="a" x="478.5" y="76.5">186</text><text class="b" x="478.5" y="89.5">102757</text><text class="c" x="478.5" y="102.5">73.16%</text>
<text class="a" x="718.5" y="76.5">86</text><text class="b" x="718.5" y="89.5">103101</text><text class="c" x="718.5" y="102.5">73.16%</text>
<text class="a" x="958.5" y="76.5">186</text><text class="b" x="958.5" y="89.5">103845</text><text class="c" x="958.5" y="102.5">73.16%</text>
</g>

<g id="r24" transform="translate(31.4,3448.3)">
<use href="#R16"/>
<path class="k sg" d="M0 0H89M480 0H554"/><path class="k sr" d="M420 15H463M900 15H944"/><path class="k sy" d="M0 30H89M360 30H403M480 30H554M840 30H884"/><path class="k sb" d="M360 45H403M420 45H463M840 45H884M900 45H944"/>
<path class="nG" d="M0 0H480"/><path class="nR" d="M420 15H900"/><path class="nY" d="M0 30H300H330H360H480H780H810H840"/><path class="nB" d="M360 45H420H840H900"/>
<rect class="os" x="300" width="9" height="61"/><rect class="ob" x="309" width="651" height="61"/>
<text class="t" x="239" y="-20">♩=130</text>
<text class="m" y="-8">90</text><text class="m" x="240" y="-8">91</text><text class="m" x="480" y="-8">92</text><text class="m" x="720" y="-8">93</text>
<text class="a" x="238.5" y="76.5">86</text><text class="b" x="238.5" y="89.5">104189</text><text class="c" x="238.5" y="102.5">73.16%</text>
<text class="a" x="478.5" y="76.5">186</text><text class="b" x="478.5" y="89.5">105677</text><text class="c" x="478.5" y="102.5">64.30%</text>
<text class="a" x="718.5" y="76.5">80</text><text class="b" x="718.5" y="89.5">106317</text><text class="c" x="718.5" y="102.5">51.80%</text>
<text class="a" x="958.5" y="76.5">186</text><text class="b" x="958.5" y="89.5">107805</text><text class="c" x="958.5" y="102.5">39.30%</text>
</g>

<g id="r25" transform="translate(31.4,3589.3)">
<use href="#R16"/>
<path class="k sg" d="M0 0H44M480 0H584M600 0H644"/><path class="k sr" d="M600 15H644M720 15H824M840 15H884"/><path class="k sy" d="M0 30H44M210 30H403M840 30H884"/><path class="k sb" d="M210 45H403"/>
<path class="nG" d="M0 0H60H90H480H600H660"/><path class="nR" d="M120 15H150H180H600H690H705H720H840H900"/><path class="nY" d="M0 30H60H90H210H420H840H930H946"/><path class="nB" d="M120 45H150H180H210"/>
<rect class="ob" width="960" height="61"/>
<text class="t" x="-1" y="-20">♩=131</text><text class="t" x="119" y="-20">♩=134</text><text class="t" x="239" y="-20">♩=136</text><text class="t" x="359" y="-20">♩=139</text><text class="t" x="479" y="-20">♩=143</text><text class="t" x="599" y="-20">♩=149</text><text class="t" x="719" y="-20">♩=155</text><text class="t" x="839" y="-20">♩=164</text>
<text class="m" y="-8">94</text><text class="m" x="240" y="-8">95</text><text class="m" x="480" y="-8">96</text><text class="m" x="720" y="-8">97</text>
<text class="a" x="238.5" y="76.5">380</text><text class="b" x="238.5" y="89.5">110845</text><text class="c" x="238.5" y="102.5">26.80%</text>
<text class="a" x="478.5" y="76.5">91</text><text class="b" x="478.5" y="89.5">111573</text><text class="c" x="478.5" y="102.5">14.30%</text>
<text class="a" x="718.5" y="76.5">189</text><text class="b" x="718.5" y="89.5">113085</text><text class="c" x="718.5" y="102.5">1.80%</text>
<text class="a" x="958.5" y="76.5">189</text><text class="b" x="958.5" y="89.5">114597</text><text class="c" x="958.5" y="102.5">0.00%</text>
</g>

<g id="r26" transform="translate(31.4,3730.3)">
<use href="#R16"/>
<path class="k sy" d="M0 30H104M120 30H164"/><path class="k sb" d="M120 45H164M240 45H344M360 45H403"/><path class="k so" d="M360 60H403"/>
<path class="nR" d="M480 15H570H585H600H690H705H720H810H825H840H900H915H930"/><path class="nY" d="M0 30H120H180"/><path class="nB" d="M120 45H210H225H240H360H420H510H630H750H870"/><path class="nO" d="M360 60h0"/>
<rect class="ob" width="274" height="61"/><rect class="or" x="480" y="-10.5" width="480" height="82"/>
<text class="t" x="-1" y="-20">♩=176</text><text class="t" x="119" y="-20">♩=188</text><text class="t" x="239" y="-20">♩=199</text><text class="t" x="359" y="-20">♩=214</text><text class="t" x="479" y="-20">♩=227</text><text class="t" x="599" y="-20">♩=236</text><text class="t" x="719" y="-20">♩=248</text><text class="t" x="839" y="-20">♩=257</text>
<text class="m" y="-8">98</text><text class="m" x="240" y="-8">99</text><text class="m" x="480" y="-8">100</text><text class="m" x="720" y="-8">101</text>
<text class="a" x="238.5" y="76.5">189</text><text class="b" x="238.5" y="89.5">116109</text><text class="c" x="238.5" y="102.5">0.00%</text>
<text class="a" x="478.5" y="76.5">139</text><text class="b" x="478.5" y="89.5">116793</text><text class="c" x="478.5" y="102.5">0.00%</text>
<text class="a" x="718.5" y="76.5">0</text><text class="b" x="718.5" y="89.5">116793</text><text class="c" x="718.5" y="102.5">0.00%</text>
<text class="a" x="958.5" y="76.5">0</text><text class="b" x="958.5" y="89.5">116793</text><text class="c" x="958.5" y="102.5">0.00%</text>
</g>

<g id="r27" transform="translate(31.4,3871.3)">
<use href="#R16"/>
<path class="nR" d="M30 15H45H60H120H135H150H180H195H210H240H255H270H300H315H330H345H360H375H390H405H420H435H450H465H480H495H510H525H540H555H570H585H600H615H630H645H660H675H690H705H720H735H750H765H780H795H810H825H840H855H870H885H900H915H930H945"/><path class="nB" d="M0 45H90"/>
<rect class="or" y="-10.5" width="960" height="82"/>
<text class="t" x="-1" y="-20">♩=199</text>
<text class="m" y="-8">102</text><text class="m" x="240" y="-8">103</text><text class="m" x="480" y="-8">104</text><text class="m" x="720" y="-8">105</text>
<text class="a" x="238.5" y="76.5">0</text><text class="b" x="238.5" y="89.5">116793</text><text class="c" x="238.5" y="102.5">0.00%</text>
<text class="a" x="478.5" y="76.5">0</text><text class="b" x="478.5" y="89.5">116793</text><text class="c" x="478.5" y="102.5">0.00%</text>
<text class="a" x="718.5" y="76.5">0</text><text class="b" x="718.5" y="89.5">116793</text><text class="c" x="718.5" y="102.5">0.00%</text>
<text class="a" x="958.5" y="76.5">0</text><text class="b" x="958.5" y="89.5">116793</text><text class="c" x="958.5" y="102.5">0.00%</text>
</g>

<g id="r28" transform="translate(31.4,4012.3)">
<use href="#R16"/>
<path class="nR" d="M0 15H15H30H45H60H75H90H105H120H135H150H165H180H195H210H225H240H255H270H285H300H315H330H345H360H375H390H405H420H435H450H465H480H495H510H525H540H555H570H585H600H615H630H645H660H675H690H705H720H735H750H765H780H795H810H825H840H855H870H885H900H915H930H945"/>
<rect class="or" y="-10.5" width="960" height="82"/>
<text class="m" y="-8">106</text><text class="m" x="240" y="-8">107</text><text class="m" x="480" y="-8">108</text><text class="m" x="720" y="-8">109</text>
<text class="a" x="238.5" y="76.5">0</text><text class="b" x="238.5" y="89.5">116793</text><text class="c" x="238.5" y="102.5">0.00%</text>
<text class="a" x="478.5" y="76.5">0</text><text class="b" x="478.5" y="89.5">116793</text><text class="c" x="478.5" y="102.5">0.00%</text>
<text class="a" x="718.5" y="76.5">0</text><text class="b" x="718.5" y="89.5">116793</text><text class="c" x="718.5" y="102.5">0.00%</text>
<text class="a" x="958.5" y="76.5">0</text><text class="b" x="958.5" y="89.5">116793</text><text class="c" x="958.5" y="102.5">0.00%</text>
</g>

<g id="r29" transform="translate(31.4,4153.3)">
<use href="#m4"/><rect class="bx" width="240" height="61"/>
<path class="k sr" d="M0 15H120"/>
<path class="nR" d="M0 15h0"/><path class="nG" d="M180 0h0"/><path class="nY" d="M180 30h0"/>
<rect class="or" y="-10.5" width="150" height="82"/>
<text class="m" y="-8">110</text>
<text class="a" x="238.5" y="76.5">0</text><text class="b" x="238.5" y="89.5">123668</text><text class="c" x="238.5" y="102.5">0.00%</text>
</g>
</g>
</svg>
